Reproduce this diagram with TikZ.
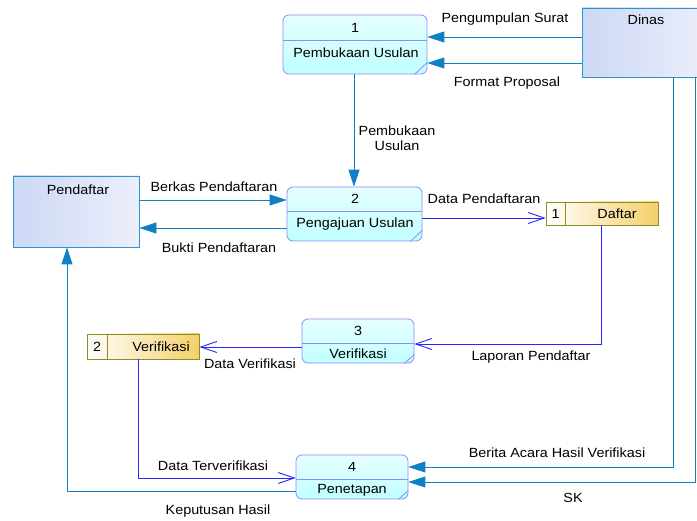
\documentclass[tikz,border=0pt]{standalone}
\usepackage{fontspec}
\setmainfont{Liberation Sans}[FakeStretch=1.08]
\usetikzlibrary{arrows.meta}
\definecolor{flowc}{RGB}{16,128,196}
\definecolor{dflow}{RGB}{40,40,250}
\definecolor{procb}{RGB}{140,140,250}
\definecolor{proct}{RGB}{230,255,255}
\definecolor{procbot}{RGB}{192,255,255}
\definecolor{entb}{RGB}{40,150,210}
\definecolor{entA}{RGB}{205,216,245}
\definecolor{entB}{RGB}{236,239,251}
\definecolor{stb}{RGB}{140,140,40}
\definecolor{stR}{RGB}{245,208,105}
\begin{document}
\begin{tikzpicture}[x=1pt,y=-1pt, font=\fontsize{13.3}{15.5}\selectfont,
 proc/.style={draw=procb, line width=0.8pt, rounded corners=6pt, top color=proct, bottom color=procbot, inner sep=0pt},
 ent/.style={draw=entb, line width=0.9pt, left color=entA, right color=entB, inner sep=0pt},
 store/.style={draw=stb, line width=0.9pt, left color=white, right color=stR, inner sep=0pt},
 sep/.style={draw=procb, line width=0.8pt},
 ssep/.style={draw=stb, line width=0.9pt},
 txt/.style={inner sep=1pt},
 flow/.style={draw=flowc, line width=0.9pt, -{Triangle[length=17pt,width=11pt]}},
 dfl/.style={draw=dflow, line width=0.9pt, -{Straight Barb[length=16pt,width=11pt]}},
]
\useasboundingbox (0,0) rectangle (697,521);
\fill[white] (0,0) rectangle (697,521);

% entities
\node[ent, minimum width=128pt, minimum height=69pt] (dinas) at (646,42.5) {};
\node[txt] (dinast) at (646,20) {Dinas};
\node[ent, minimum width=126pt, minimum height=71pt] (pend) at (76,211.5) {};
\node[txt] (pendt) at (78,190) {Pendaftar};

% processes
\node[proc, minimum width=144pt, minimum height=59pt] (p1) at (355,44.5) {};
\draw[sep] (p1.west |- 0,40) -- (p1.east |- 0,40);
\draw[sep] ([xshift=-13pt]p1.south east) -- ([yshift=12pt]p1.south east);
\node[txt] (p1n) at (355,28) {1};
\node[txt] (p1t) at (356,53) {Pembukaan Usulan};

\node[proc, minimum width=135pt, minimum height=54pt] (p2) at (354.5,214) {};
\draw[sep] (p2.west |- 0,211) -- (p2.east |- 0,211);
\draw[sep] ([xshift=-12pt]p2.south east) -- ([yshift=11pt]p2.south east);
\node[txt] (p2n) at (355,199) {2};
\node[txt] (p2t) at (355,224) {Pengajuan Usulan};

\node[proc, minimum width=112pt, minimum height=44pt] (p3) at (358,341) {};
\draw[sep] (p3.west |- 0,343) -- (p3.east |- 0,343);
\draw[sep] ([xshift=-10pt]p3.south east) -- ([yshift=9pt]p3.south east);
\node[txt] (p3n) at (358,331) {3};
\node[txt] (p3t) at (358,354) {Verifikasi};

\node[proc, minimum width=112pt, minimum height=44pt] (p4) at (352,477) {};
\draw[sep] (p4.west |- 0,479) -- (p4.east |- 0,479);
\draw[sep] ([xshift=-10pt]p4.south east) -- ([yshift=9pt]p4.south east);
\node[txt] (p4n) at (352,467) {4};
\node[txt] (p4t) at (352,490) {Penetapan};

% data stores
\node[store, minimum width=112pt, minimum height=23pt] (daftar) at (602,213.5) {};
\draw[ssep] (daftar.north -| 565,0) -- (daftar.south -| 565,0);
\node[txt] (daftarn) at (555.5,213.5) {1};
\node[txt] (daftart) at (617,213.5) {Daftar};

\node[store, minimum width=112pt, minimum height=25pt] (verst) at (143,346.5) {};
\draw[ssep] (verst.north -| 107,0) -- (verst.south -| 107,0);
\node[txt] (verstn) at (97,346.5) {2};
\node[txt] (verstt) at (161,346.5) {Verifikasi};

% flows
\draw[flow] (dinas.west |- 0,37) -- (p1.east |- 0,37);
\node[txt] (l1) at (505,19) {Pengumpulan Surat};
\draw[flow] (dinas.west |- 0,63) -- (p1.east |- 0,63);
\node[txt] (l2) at (507,83) {Format Proposal};

\draw[flow] (p1.south -| 354,0) -- (p2.north -| 354,0);
\node[txt, align=center] (l3) at (397,138) {Pembukaan\\Usulan};

\draw[flow] (pend.east |- 0,200) -- (p2.west |- 0,200);
\node[txt] (l4) at (214,187) {Berkas Pendaftaran};
\draw[flow] (p2.west |- 0,228) -- (pend.east |- 0,228);
\node[txt] (l5) at (219,248) {Bukti Pendaftaran};

\draw[dfl] (p2.east |- 0,218) -- (daftar.west |- 0,218);
\node[txt] (l6) at (484,199) {Data Pendaftaran};

\draw[dfl] (daftar.south -| 601,0) -- (601,344) -- (p3.east |- 0,344);
\node[txt] (l7) at (531,357) {Laporan Pendaftar};

\draw[dfl] (p3.west |- 0,347) -- (verst.east |- 0,347);
\node[txt] (l8) at (250,364) {Data Verifikasi};

\draw[dfl] (verst.south -| 138,0) -- (138,478) -- (p4.west |- 0,478);
\node[txt] (l9) at (213,466) {Data Terverifikasi};

\draw[flow] (p4.west |- 0,491) -- (67,491) -- (pend.south -| 67,0);
\node[txt] (l10) at (218,511) {Keputusan Hasil};

\draw[flow] (dinas.south -| 673,0) -- (673,467) -- (p4.east |- 0,467);
\node[txt] (l11) at (557,453) {Berita Acara Hasil Verifikasi};

\draw[flow] (dinas.south -| 695,0) -- (695,482) -- (p4.east |- 0,482);
\node[txt] (l12) at (573,498) {SK};
\end{tikzpicture}
\end{document}
